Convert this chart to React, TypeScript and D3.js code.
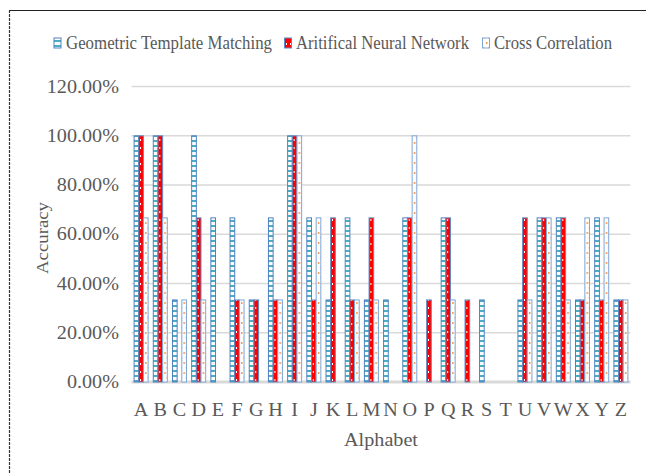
import React from "react";
import * as d3 from "d3";

const categories = "ABCDEFGHIJKLMNOPQRSTUVWXYZ".split("");
const seriesNames = ["Geometric Template Matching", "Aritifical Neural Network", "Cross Correlation"];
const gtm = [100, 100, 33.33, 100, 66.67, 66.67, 33.33, 66.67, 100, 66.67, 33.33, 66.67, 33.33, 33.33, 66.67, 0, 66.67, 0, 33.33, 0, 33.33, 66.67, 66.67, 33.33, 66.67, 33.33];
const ann = [100, 100, 0, 66.67, 0, 33.33, 33.33, 33.33, 100, 33.33, 66.67, 33.33, 66.67, 0, 66.67, 33.33, 66.67, 33.33, 0, 0, 66.67, 66.67, 66.67, 33.33, 33.33, 33.33];
const cc = [66.67, 66.67, 33.33, 33.33, 0, 33.33, 0, 33.33, 100, 66.67, 0, 33.33, 33.33, 0, 100, 0, 33.33, 0, 0, 0, 33.33, 66.67, 33.33, 66.67, 66.67, 33.33];
const yTicks = [0, 20, 40, 60, 80, 100, 120];

const W = 646, H = 473;
const left = 131.5, right = 630.5, top = 86.6, bottom = 382;
const TXT = "#595959";
const SERIF = "'Liberation Serif', 'Times New Roman', serif";

export default function App() {
  const x0 = d3.scaleBand<string>().domain(categories).range([left, right]).paddingInner(0.27).paddingOuter(0.135);
  const x1 = d3.scaleBand<number>().domain([0, 1, 2]).range([0, x0.bandwidth()]);
  const y = d3.scaleLinear().domain([0, 120]).range([bottom, top]);
  const series = [gtm, ann, cc];
  const fills = ["url(#pGtm)", "url(#pAnn)", "url(#pCc)"];
  const strokes = ["#4f81bd", "#5f8cc6", "#7ea6d6"];
  const legendX = [[54, 66, 206], [284.5, 296, 173], [482.5, 494, 118]];
  const sx = 1.12;

  return (
    <svg width={W} height={H} style={{ position: "absolute", left: 0, top: 0, background: "#fff" }}>
      <defs>
        <pattern id="pGtm" patternUnits="userSpaceOnUse" width="6" height="5">
          <rect width="6" height="5" fill="#fff" />
          <rect y="0" width="6" height="2" fill="#4bacc6" />
        </pattern>
        <pattern id="pAnn" patternUnits="userSpaceOnUse" width="4" height="8">
          <rect width="4" height="8" fill="#ff0000" />
          <rect x="2" y="3" width="1" height="2" fill="#fff" />
        </pattern>
        <pattern id="pCc" patternUnits="userSpaceOnUse" width="5" height="10">
          <rect width="5" height="10" fill="#fff" />
          <rect x="1" y="2" width="1.5" height="2" fill="#f79646" />
          <rect x="3" y="7" width="1.5" height="1.5" fill="#fac090" />
        </pattern>
      </defs>

      {/* border */}
      <line x1={9} y1={10.5} x2={W} y2={10.5} stroke="#222" strokeWidth={1.2} />
      <line x1={9.5} y1={10} x2={9.5} y2={H} stroke="#333" strokeWidth={1.2} strokeDasharray="3,1" />

      {/* gridlines */}
      {yTicks.map((t) => (
        <line key={t} x1={left} x2={right} y1={y(t)} y2={y(t)} stroke="#d9d9d9" strokeWidth={t === 0 ? 3 : 1.5} />
      ))}

      {/* y tick labels */}
      {yTicks.map((t) => (
        <text key={"l" + t} transform={`translate(119,${y(t) + 6}) scale(${sx},1)`} textAnchor="end" fontFamily={SERIF} fontSize={18} fill={TXT}>
          {t.toFixed(2) + "%"}
        </text>
      ))}

      {/* bars */}
      {categories.map((c, i) => (
        <g key={c} transform={`translate(${x0(c)},0)`}>
          {series.map((s, k) =>
            s[i] > 0 ? (
              <rect key={k} x={x1(k)} y={y(s[i])} width={x1.bandwidth()} height={bottom - y(s[i])} fill={fills[k]} stroke={strokes[k]} strokeWidth={1} />
            ) : null
          )}
        </g>
      ))}

      {/* x labels */}
      {categories.map((c) => (
        <text key={"x" + c} transform={`translate(${(x0(c) as number) + x0.bandwidth() / 2},416) scale(${sx},1)`} textAnchor="middle" fontFamily={SERIF} fontSize={18} fill={TXT}>
          {c}
        </text>
      ))}

      {/* axis titles */}
      <text transform={`translate(${(left + right) / 2},446) scale(${sx},1)`} textAnchor="middle" fontFamily={SERIF} fontSize={18} fill={TXT}>
        Alphabet
      </text>
      <text transform="translate(48,238) rotate(-90)" textAnchor="middle" fontFamily={SERIF} fontSize={17} fill={TXT} textLength={72} lengthAdjust="spacingAndGlyphs">
        Accuracy
      </text>

      {/* legend */}
      {seriesNames.map((n, k) => (
        <g key={n}>
          <rect x={legendX[k][0]} y={38} width={7} height={10} fill={fills[k]} stroke={strokes[k]} strokeWidth={1} />
          <text x={legendX[k][1]} y={49} fontFamily={SERIF} fontSize={19} fill={TXT} textLength={legendX[k][2]} lengthAdjust="spacingAndGlyphs">
            {n}
          </text>
        </g>
      ))}
    </svg>
  );
}
